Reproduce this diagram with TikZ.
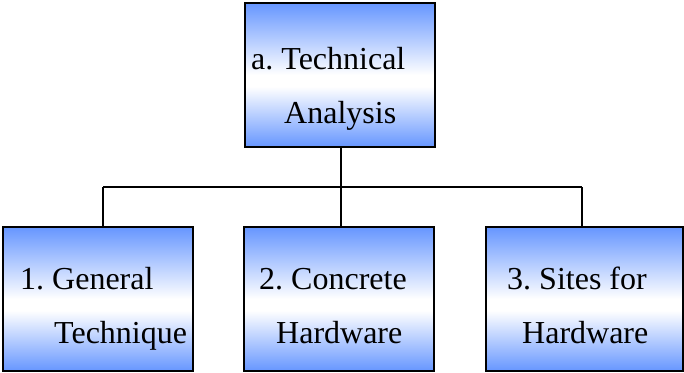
\documentclass[tikz,border=0pt]{standalone}
\usepackage{fontspec}
\setmainfont{Liberation Serif}
\frenchspacing
\definecolor{boxblue}{RGB}{102,150,255}
% blue at top and bottom, white a little below the middle
\pgfdeclareverticalshading{bluewhite}{100bp}{%
  color(0bp)=(boxblue); color(25bp)=(boxblue);
  color(46bp)=(white); color(50bp)=(white);
  color(75bp)=(boxblue); color(100bp)=(boxblue)}
\begin{document}
\begin{tikzpicture}[x=1pt,y=-1pt,
  box/.style={draw=black, line width=1.5pt, shading=bluewhite,
    minimum height=144pt, inner sep=0pt},
  label/.style={anchor=base west, inner sep=0pt,
    font=\fontsize{32}{36}\selectfont},
  link/.style={draw=black, line width=1.5pt}]
\useasboundingbox (0,0) rectangle (684,372);

% boxes
\node[box, line width=2pt, minimum width=190pt] (top) at (340,75) {};
\node[box, minimum width=190pt] (b1) at (98,299) {};
\node[box, minimum width=190pt] (b2) at (339,299) {};
\node[box, minimum width=197pt] (b3) at (584.5,299) {};

% texts
\node[label] (t1) at (251,69) {a. Technical};
\node[label] (t2) at (284,123) {Analysis};
\node[label] (l11) at (20,289) {1. General};
\node[label] (l12) at (54,343) {Technique};
\node[label] (l21) at (259,289) {2. Concrete};
\node[label] (l22) at (276,343) {Hardware};
\node[label] (l31) at (507,289) {3. Sites for};
\node[label] (l32) at (522,343) {Hardware};

% connectors
\coordinate (j0) at (341,187);
\coordinate (j1) at (103,187);
\coordinate (j3) at (582,187);
\draw[link] (top.south -| j0) -- (j0);
\draw[link] (j1) -- (j3);
\draw[link] (j1) -- (j1 |- b1.north);
\draw[link] (j0) -- (j0 |- b2.north);
\draw[link] (j3) -- (j3 |- b3.north);
\end{tikzpicture}
\end{document}
